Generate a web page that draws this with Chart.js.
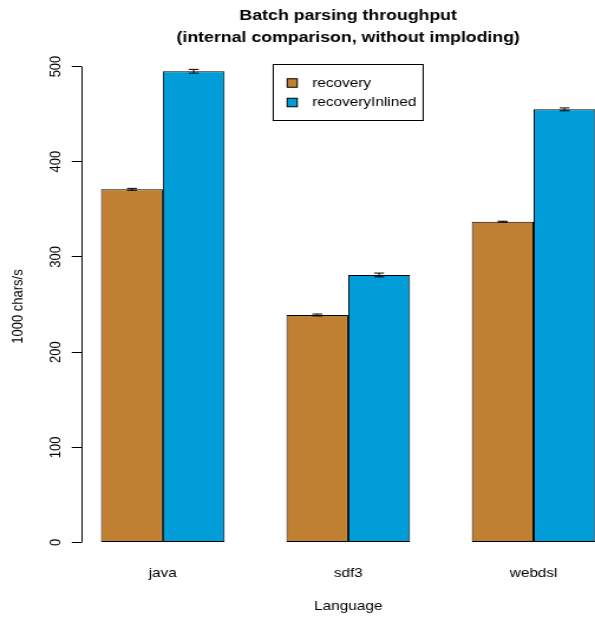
<!DOCTYPE html>
<html><head><meta charset="utf-8">
<script src="https://cdn.jsdelivr.net/npm/chart.js@4.4.1/dist/chart.umd.min.js"></script>
<style>
html,body{margin:0;padding:0;background:#fff;overflow:hidden;width:595px;height:622px;}
#wrap{width:530px;height:622px;transform:scaleX(1.18056);transform-origin:0 0;}
canvas{display:block;}
</style></head><body>
<div id="wrap"><canvas id="c" width="530" height="622"></canvas></div>
<script>
// ---- data ----
const categories = ['java', 'sdf3', 'webdsl'];
const seriesNames = ['recovery', 'recoveryInlined'];
const recovery = [371, 239, 337];
const recoveryInlined = [495, 281, 455];
const recoveryErr = [1, 1, 0.5];
const recoveryInlinedErr = [2, 2, 1.5];
const yTicks = [0, 100, 200, 300, 400, 500];

const colors = ['#C08031', '#009DD9'];
const FONT = "'Liberation Sans', Arial, Helvetica, sans-serif";
Chart.defaults.font.family = FONT;
Chart.defaults.color = '#000';

const seriesValues = [recovery, recoveryInlined];
const seriesErrors = [recoveryErr, recoveryInlinedErr];

const datasets = seriesNames.map((name, s) => ({
  label: name,
  data: categories.map((c, i) => ({ x: 3 * i + 2, y: seriesValues[s][i] })),
  backgroundColor: colors[s],
  borderColor: '#000',
  borderWidth: 1,
  borderSkipped: false,
  categoryPercentage: 2 / 3,
  barPercentage: 1,
  errors: seriesErrors[s]
}));

const errorBars = {
  id: 'errorBars',
  afterDatasetsDraw(chart) {
    const ctx = chart.ctx, ys = chart.scales.y;
    ctx.save();
    ctx.strokeStyle = '#000';
    ctx.lineWidth = 1;
    chart.data.datasets.forEach((ds, di) => {
      const meta = chart.getDatasetMeta(di);
      meta.data.forEach((el, j) => {
        const v = ds.data[j].y, e = ds.errors[j];
        const x = el.x;
        const yt = ys.getPixelForValue(v + e), yb = ys.getPixelForValue(v - e);
        const hw = 4.2;
        ctx.beginPath();
        ctx.moveTo(x, yt); ctx.lineTo(x, yb);
        ctx.moveTo(x - hw, yt); ctx.lineTo(x + hw, yt);
        ctx.moveTo(x - hw, yb); ctx.lineTo(x + hw, yb);
        ctx.stroke();
      });
    });
    ctx.restore();
  }
};

const axisLine = {
  id: 'axisLine',
  afterDraw(chart) {
    const ctx = chart.ctx, ys = chart.scales.y;
    const x = Math.round(chart.chartArea.left) + 0.5;
    ctx.save();
    ctx.strokeStyle = '#000';
    ctx.lineWidth = 1;
    ctx.beginPath();
    ctx.moveTo(x, ys.getPixelForValue(yTicks[0]));
    ctx.lineTo(x, ys.getPixelForValue(yTicks[yTicks.length - 1]));
    ctx.stroke();
    ctx.restore();
  }
};

const boxLegend = {
  id: 'boxLegend',
  afterDraw(chart) {
    const ctx = chart.ctx, ca = chart.chartArea;
    const w = 127, h = 56;
    const left = (ca.left + ca.right) / 2 - w / 2;
    const top = 64.5;
    ctx.save();
    ctx.strokeStyle = '#000';
    ctx.lineWidth = 1;
    ctx.strokeRect(left, top, w, h);
    ctx.font = '13px ' + FONT;
    ctx.textBaseline = 'middle';
    ctx.textAlign = 'left';
    const rows = [83, 102.5];
    chart.data.datasets.forEach((ds, i) => {
      const cy = rows[i];
      ctx.fillStyle = ds.backgroundColor;
      ctx.fillRect(left + 11.8, cy - 4.25, 8.5, 8.5);
      ctx.strokeRect(left + 11.8, cy - 4.25, 8.5, 8.5);
      ctx.fillStyle = '#000';
      ctx.fillText(ds.label, left + 33, cy);
    });
    ctx.restore();
  }
};

new Chart(document.getElementById('c'), {
  type: 'bar',
  data: { datasets },
  options: {
    responsive: false,
    animation: false,
    devicePixelRatio: 1,
    layout: { padding: { left: 0, right: 8.9, top: 0, bottom: 0 } },
    plugins: {
      legend: { display: false },
      tooltip: { enabled: false },
      title: {
        display: true,
        fullSize: false,
        text: ['Batch parsing throughput', '(internal comparison, without imploding)'],
        color: '#000',
        font: { family: FONT, size: 15, weight: 'bold', lineHeight: 22 / 15 },
        padding: { top: 5, bottom: 2 }
      }
    },
    scales: {
      x: {
        type: 'linear',
        position: 'bottom',
        min: 0.68,
        max: 9.32,
        offset: false,
        grid: { display: false, drawTicks: false },
        border: { display: false },
        afterBuildTicks(scale) {
          scale.ticks = categories.map((c, i) => ({ value: 3 * i + 2 }));
        },
        ticks: {
          padding: 3.2,
          autoSkip: false,
          maxRotation: 0,
          font: { size: 13 },
          color: '#000',
          callback: (v, idx) => categories[idx]
        },
        title: {
          display: true,
          text: 'Language',
          color: '#000',
          font: { size: 13 },
          padding: { top: 0, bottom: 8.2 }
        },
        afterFit(scale) { scale.height = 60; }
      },
      y: {
        type: 'linear',
        min: -20.5,
        max: 516.3,
        afterBuildTicks(scale) {
          scale.ticks = yTicks.map(v => ({ value: v }));
        },
        grid: { display: true, drawOnChartArea: false, drawTicks: true, tickLength: 8, color: '#000', lineWidth: 1 },
        border: { display: false },
        ticks: {
          minRotation: 90,
          maxRotation: 90,
          crossAlign: 'center',
          padding: 3,
          font: { size: 13 },
          color: '#000',
          autoSkip: false
        },
        title: {
          display: true,
          text: '1000 chars/s',
          color: '#000',
          font: { size: 13 },
          padding: { top: 7.5, bottom: 0 }
        },
        afterFit(scale) { scale.width = 68.8; }
      }
    }
  },
  plugins: [errorBars, axisLine, boxLegend]
});
</script>
</body></html>
